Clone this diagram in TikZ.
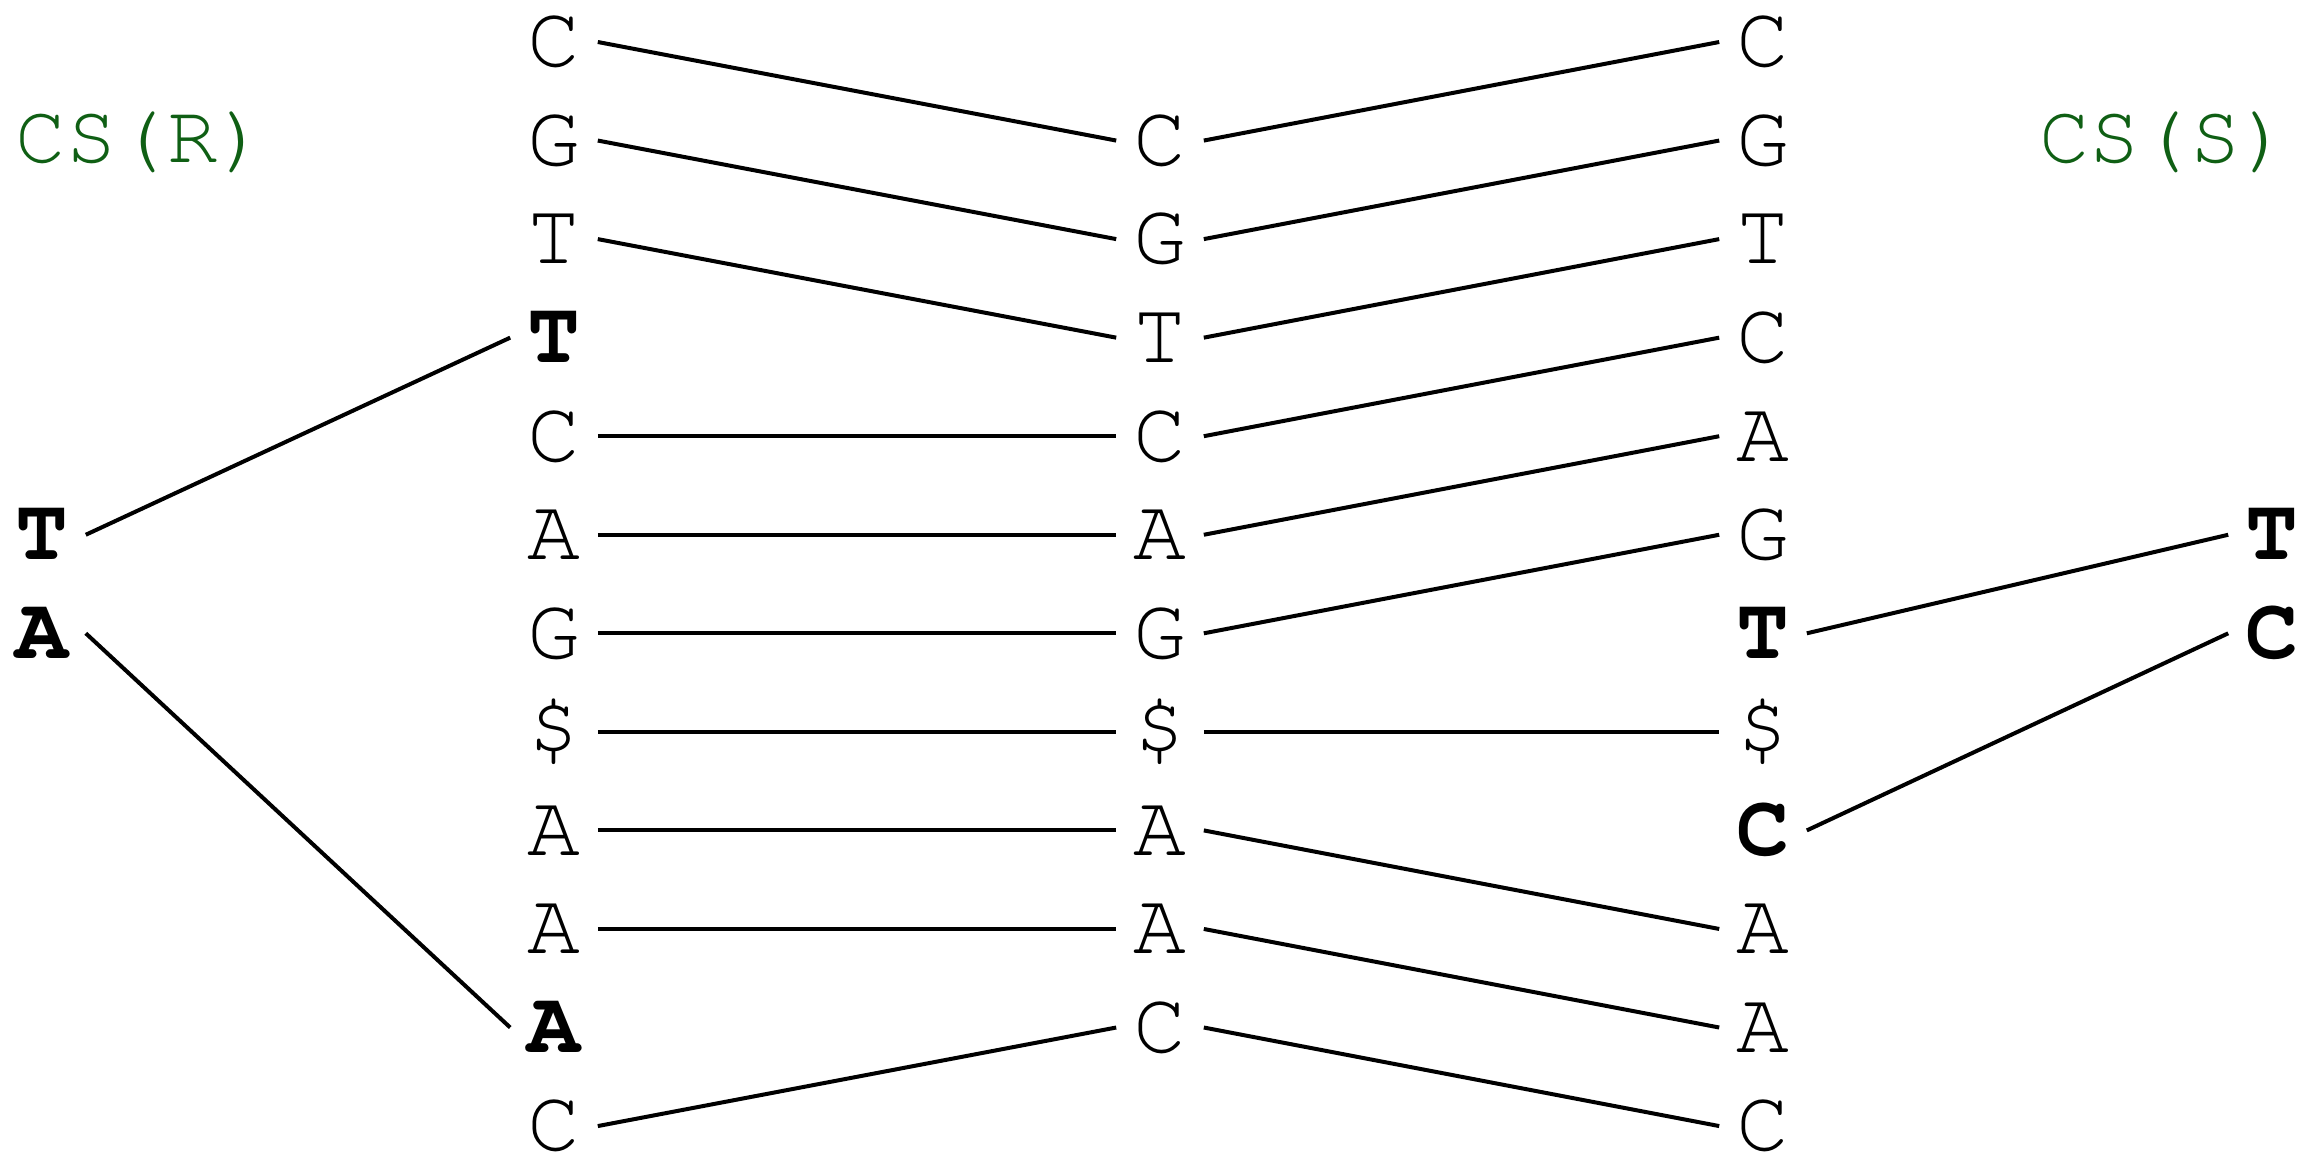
\documentclass[tikz,border=0pt]{standalone}
\usepackage[T1,TU]{fontenc}
\definecolor{labelgreen}{RGB}{15,95,20}
\newcommand\seqfont{\fontencoding{T1}\fontfamily{pcr}\fontsize{44}{44}\selectfont}
\newcommand\tagfont{\fontencoding{T1}\fontfamily{pcr}\fontsize{42}{42}\selectfont}
\begin{document}
\begin{tikzpicture}[x=0.5pt,y=-0.5pt,
  base/.style={font=\seqfont,
    inner xsep=8.5pt, inner ysep=0pt, text height=24.8pt, text depth=0pt},
  heavy/.style={base, font=\seqfont\bfseries},
  link/.style={line width=2pt},
  tag/.style={font=\tagfont, text=labelgreen, inner sep=0pt,
    text height=23.6pt, text depth=0pt}]
\useasboundingbox (0,0) rectangle (2311,1152);

% first column of symbols
\foreach \s/\t [count=\i] in {base/C,base/G,base/T,heavy/T,base/C,base/A,
    base/G,base/\$,base/A,base/A,heavy/A,base/C}
  \node[style=\s] (a\i) at (554,{42+(\i-1)*98.55}) {\t};

% middle column
\foreach \s/\t [count=\i from 2] in {base/C,base/G,base/T,base/C,base/A,
    base/G,base/\$,base/A,base/A,base/C}
  \node[style=\s] (b\i) at (1160,{42+(\i-1)*98.55}) {\t};

% third column
\foreach \s/\t [count=\i] in {base/C,base/G,base/T,base/C,base/A,base/G,
    heavy/T,base/\$,heavy/C,base/A,base/A,base/C}
  \node[style=\s] (c\i) at (1763,{42+(\i-1)*98.55}) {\t};

% outer symbols
\node[heavy] (l6) at (42,534.75) {T};
\node[heavy] (l7) at (42,633.3) {A};
\node[heavy] (r6) at (2272,534.75) {T};
\node[heavy] (r7) at (2272,633.3) {C};

% strand labels
\node[tag] (csr) at (142,139) {CS(R)};
\node[tag] (css) at (2165,139) {CS(S)};

% links from the first column to the middle column
\foreach \p/\q in {1/2,2/3,3/4,5/5,6/6,7/7,8/8,9/9,10/10,12/11}
  \draw[link] (a\p.east) -- (b\q.west);

% links from the middle column to the third column
\foreach \p/\q in {2/1,3/2,4/3,5/4,6/5,7/6,8/8,9/10,10/11,11/12}
  \draw[link] (b\p.east) -- (c\q.west);

% links to the outer symbols
\draw[link] (l6.east) -- (a4.west);
\draw[link] (l7.east) -- (a11.west);
\draw[link] (c7.east) -- (r6.west);
\draw[link] (c9.east) -- (r7.west);
\end{tikzpicture}
\end{document}
